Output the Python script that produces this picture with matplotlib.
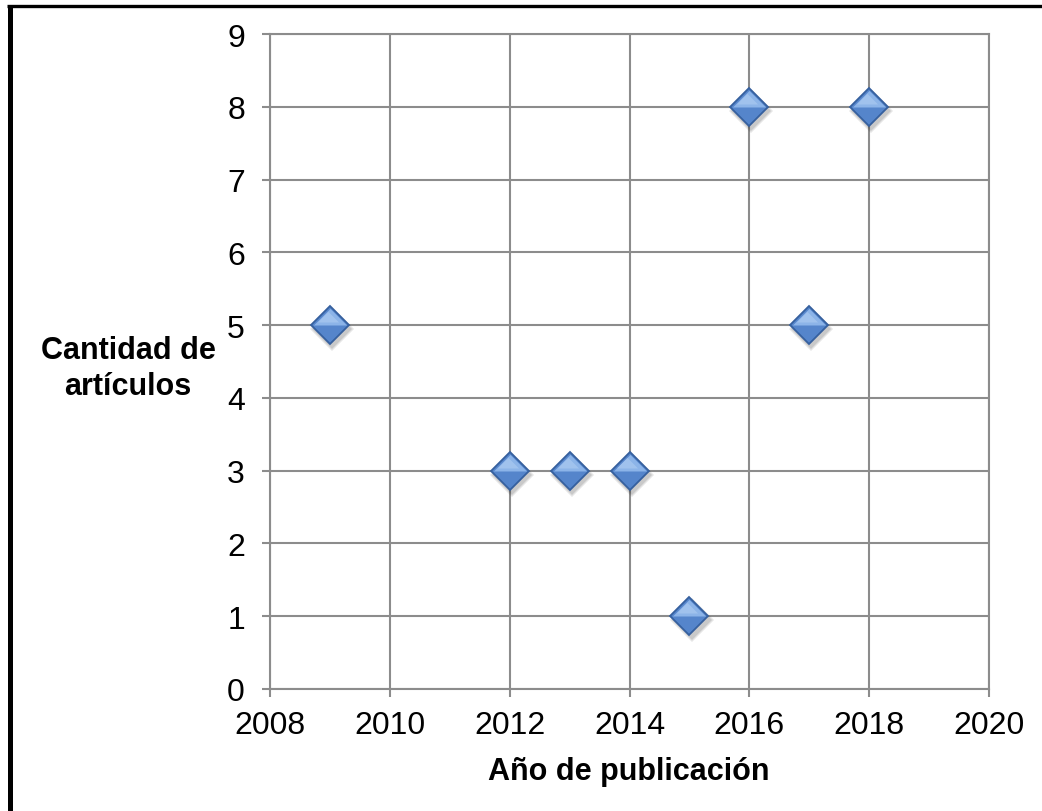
import matplotlib
matplotlib.use("Agg")
import matplotlib.pyplot as plt
from matplotlib.lines import Line2D
from matplotlib.path import Path
from matplotlib.transforms import ScaledTranslation

plt.rcParams['font.family'] = ['Liberation Sans', 'DejaVu Sans']

# Publications per year
years = [2009, 2012, 2013, 2014, 2015, 2016, 2017, 2018]
counts = [5, 3, 3, 3, 1, 8, 5, 8]

x_ticks = [2008, 2010, 2012, 2014, 2016, 2018, 2020]
y_ticks = list(range(0, 10))
x_label = "Año de publicación"
y_label = "Cantidad de\nartículos"

fig = plt.figure(figsize=(10.42, 8.12), dpi=100)
ax = fig.add_axes([270 / 1042, 1 - 690 / 812, (989 - 270) / 1042, (690 - 35) / 812])

grid_color = '#8c8c8c'
ax.set_xlim(2008, 2020)
ax.set_ylim(0, 9)
ax.set_xticks(x_ticks)
ax.set_yticks(y_ticks)
ax.grid(True, color=grid_color, linewidth=1.5)
ax.set_axisbelow(True)
for s in ax.spines.values():
    s.set_color(grid_color)
    s.set_linewidth(1.5)
ax.tick_params(axis='both', colors=grid_color, labelcolor='black', length=6,
               width=1.5, labelsize=23, direction='out')
ax.tick_params(axis='y', pad=12)
ax.tick_params(axis='x', pad=9)

# Diamond markers: soft shadow, base body, lighter upper half, highlight
ms = 19
shadow = ax.transData + ScaledTranslation(1.5 / 72, -3 / 72, fig.dpi_scale_trans)
ax.plot(years, counts, linestyle='none', marker='D', markersize=ms + 3,
        color='#000000', alpha=0.10, markeredgewidth=0, transform=shadow, zorder=3)
ax.plot(years, counts, linestyle='none', marker='D', markersize=ms + 1,
        color='#000000', alpha=0.12, markeredgewidth=0, transform=shadow, zorder=3)
ax.plot(years, counts, linestyle='none', marker='D', markersize=ms,
        markerfacecolor='#5585cb', markeredgecolor='#36609e', markeredgewidth=1.3,
        zorder=4)
upper = Path([(-0.5, 0.0), (0.0, 0.5), (0.5, 0.0), (-0.5, 0.0)],
             [Path.MOVETO, Path.LINETO, Path.LINETO, Path.CLOSEPOLY])
ax.plot(years, counts, linestyle='none', marker=upper, markersize=ms * 1.414 - 3,
        markerfacecolor='#8cb4e8', markeredgewidth=0, zorder=5)
ax.plot(years, counts, linestyle='none', marker=upper, markersize=ms * 0.8,
        markerfacecolor='#a6c6ef', markeredgewidth=0, alpha=0.8,
        transform=ax.transData + ScaledTranslation(-1.5 / 72, 2 / 72, fig.dpi_scale_trans),
        zorder=6)

fig.text(128 / 1042, 1 - 369 / 812, y_label, ha='center', va='center',
         fontsize=22, fontweight='bold', linespacing=1.25)
fig.text(629 / 1042, 1 - 772 / 812, x_label, ha='center', va='center',
         fontsize=22, fontweight='bold')

# Frame lines on the left and top edges
fig.add_artist(Line2D([9.5 / 1042, 9.5 / 1042], [0, 1 - 6 / 812], color='black',
                      linewidth=3.6, transform=fig.transFigure, solid_capstyle='butt'))
fig.add_artist(Line2D([7 / 1042, 1], [1 - 6.5 / 812, 1 - 6.5 / 812], color='black',
                      linewidth=2.4, transform=fig.transFigure, solid_capstyle='butt'))

fig.savefig("out.png", dpi=100)
